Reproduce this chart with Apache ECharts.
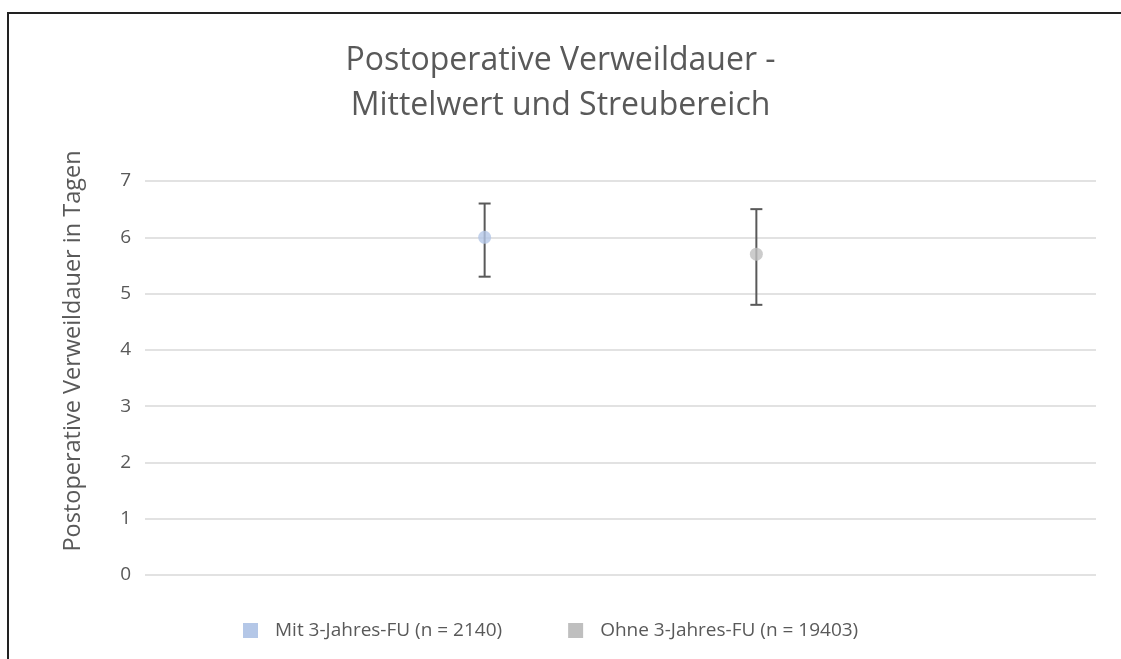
<!DOCTYPE html>
<html>
<head>
<meta charset="utf-8">
<script src="https://cdn.jsdelivr.net/npm/echarts@6/dist/echarts.min.js"></script>
<style>
  html, body { margin: 0; padding: 0; background: #fff; }
  #chart { width: 1121px; height: 659px; }
</style>
</head>
<body>
<div id="chart"></div>
<script>
// Daten
var seriesNames = ['Mit 3-Jahres-FU (n = 2140)', 'Ohne 3-Jahres-FU (n = 19403)'];
var xPos = [2.5, 4.5];          // Lage auf der (versteckten) x-Achse
var means = [6.0, 5.7];         // Mittelwert
var lows = [5.3, 4.8];          // Streubereich unten
var highs = [6.6, 6.5];         // Streubereich oben
var colors = ['#B4C7E7', '#BFBFBF'];
var yTicks = [0, 1, 2, 3, 4, 5, 6, 7];

var FONT = '"Open Sans", sans-serif';
var TXT = '#595959';

function errorBar(i) {
    return {
        name: seriesNames[i],
        type: 'custom',
        z: 1,
        silent: true,
        data: [[xPos[i], lows[i], highs[i]]],
        renderItem: function (params, api) {
            var lo = api.coord([api.value(0), api.value(1)]);
            var hi = api.coord([api.value(0), api.value(2)]);
            var w = 6;
            var style = { stroke: '#595959', lineWidth: 2 };
            return {
                type: 'group',
                children: [
                    { type: 'line', shape: { x1: lo[0], y1: lo[1], x2: hi[0], y2: hi[1] }, style: style },
                    { type: 'line', shape: { x1: lo[0] - w, y1: lo[1], x2: lo[0] + w, y2: lo[1] }, style: style },
                    { type: 'line', shape: { x1: hi[0] - w, y1: hi[1], x2: hi[0] + w, y2: hi[1] }, style: style }
                ]
            };
        }
    };
}

function meanPoint(i) {
    return {
        name: seriesNames[i],
        type: 'scatter',
        z: 3,
        symbol: 'circle',
        symbolSize: 13,
        itemStyle: { color: colors[i] },
        data: [[xPos[i], means[i]]]
    };
}

var mchart = echarts.init(document.getElementById('chart'));
var option = {
    backgroundColor: '#fff',
    animation: false,
    color: colors,
    title: {
        text: 'Postoperative Verweildauer -\nMittelwert und Streubereich',
        left: 'center',
        top: 33,
        textStyle: {
            fontFamily: FONT,
            fontWeight: 'normal',
            fontSize: 32,
            color: TXT,
            lineHeight: 45
        }
    },
    legend: {
        bottom: 14,
        left: 238,
        itemWidth: 15,
        itemHeight: 15,
        itemGap: 66,
        icon: 'rect',
        textStyle: { fontFamily: FONT, fontSize: 19, color: TXT, padding: [0, 0, 0, 12] },
        data: [
            { name: seriesNames[0], itemStyle: { color: colors[0] } },
            { name: seriesNames[1], itemStyle: { color: colors[1] } }
        ]
    },
    grid: { left: 145, right: 25, top: 181, bottom: 84 },
    xAxis: {
        type: 'value',
        min: 0,
        max: 7,
        show: false
    },
    yAxis: {
        type: 'value',
        min: yTicks[0],
        max: yTicks[yTicks.length - 1],
        interval: 1,
        name: 'Postoperative Verweildauer in Tagen',
        nameLocation: 'middle',
        nameGap: 60,
        nameTextStyle: { fontFamily: FONT, fontSize: 23.5, color: TXT, padding: [0, 0, 0, 54] },
        axisLine: { show: false },
        axisTick: { show: false },
        axisLabel: { fontFamily: FONT, fontSize: 19, color: TXT, margin: 14 },
        splitLine: { lineStyle: { color: '#D9D9D9', width: 1.5 } }
    },
    graphic: [
        {   // Rahmen
            type: 'rect',
            silent: true,
            shape: { x: 8, y: 13, width: 1300, height: 800 },
            style: { fill: null, stroke: '#222', lineWidth: 2 }
        }
    ],
    series: [errorBar(0), errorBar(1), meanPoint(0), meanPoint(1)]
};
mchart.setOption(option);
</script>
</body>
</html>
